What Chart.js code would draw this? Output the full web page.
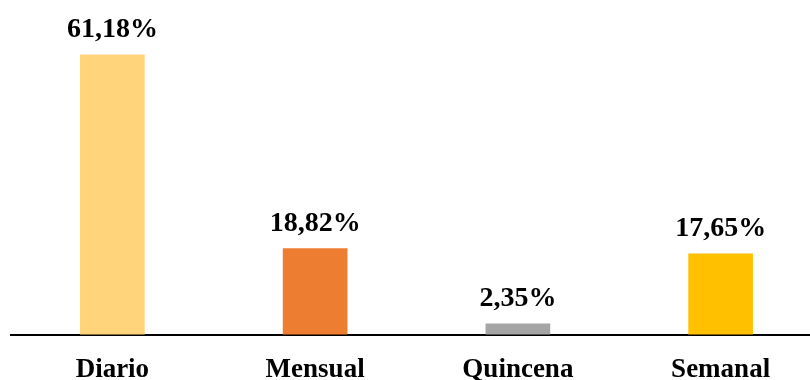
<!DOCTYPE html>
<html>
<head>
<meta charset="utf-8">
<script src="https://cdn.jsdelivr.net/npm/chart.js@4.4.1/dist/chart.umd.min.js"></script>
<style>
  html, body { margin: 0; padding: 0; background: #fff; overflow: hidden; }
  #wrap { position: relative; width: 822px; height: 405px; }
</style>
</head>
<body>
<div id="wrap"><canvas id="chart"></canvas></div>
<script>
// --- data ---
const categories = ['Diario', 'Mensual', 'Quincena', 'Semanal'];
const shares = [61.18, 18.82, 2.35, 17.65];
const barColors = ['#FFD47A', '#ED7D31', '#A5A5A5', '#FFC000'];

const fontFamily = '"Liberation Serif", "Times New Roman", serif';

// value labels above each bar (comma decimals)
const valueLabels = {
  id: 'valueLabels',
  afterDatasetsDraw(chart) {
    const ctx = chart.ctx;
    const meta = chart.getDatasetMeta(0);
    ctx.save();
    ctx.font = 'bold 28px ' + fontFamily;
    ctx.fillStyle = '#000';
    ctx.textAlign = 'center';
    ctx.textBaseline = 'alphabetic';
    meta.data.forEach((bar, i) => {
      const txt = shares[i].toFixed(2).replace('.', ',') + '%';
      ctx.fillText(txt, bar.x, bar.y - 18);
    });
    ctx.restore();
  }
};

new Chart(document.getElementById('chart'), {
  type: 'bar',
  data: {
    labels: categories,
    datasets: [{
      data: shares,
      backgroundColor: barColors,
      barThickness: 64,
      borderWidth: 0
    }]
  },
  options: {
    responsive: true,
    maintainAspectRatio: false,
    animation: false,
    layout: { padding: { left: 11, right: 0, top: 0, bottom: 0 } },
    plugins: { legend: { display: false }, tooltip: { enabled: false } },
    scales: {
      y: { display: false, min: 0, max: 73.2 },
      x: {
        grid: { display: false, drawTicks: false },
        border: { display: true, color: '#000', width: 2 },
        ticks: {
          color: '#000',
          padding: 19,
          font: { family: fontFamily, size: 27, weight: 'bold' }
        }
      }
    }
  },
  plugins: [valueLabels]
});
</script>
</body>
</html>
